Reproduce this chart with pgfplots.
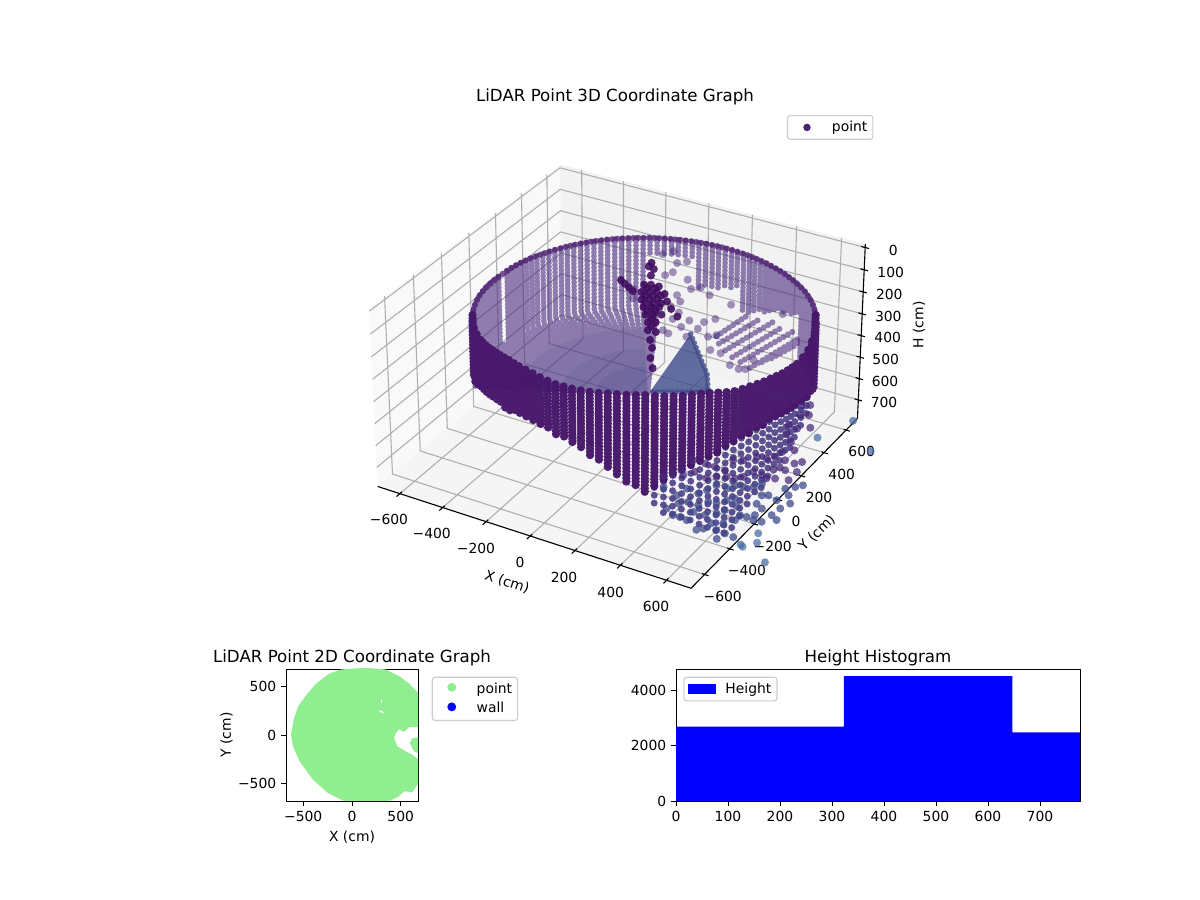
\documentclass[border=0pt]{standalone}
\usepackage{pgfplots}
\pgfplotsset{compat=1.18}
\usepackage{fontspec}
\setmainfont{DejaVu Sans}
\def\tf{\fontsize{10bp}{12bp}\selectfont}
\def\ttl{\fontsize{12bp}{14bp}\selectfont}
\definecolor{lg}{HTML}{CCCCCC}
\definecolor{gridc}{HTML}{B0B0B0}
\definecolor{lightgreen}{HTML}{90EE90}
\definecolor{cW}{HTML}{4A2A7E}
\definecolor{cF}{HTML}{46156A}
\definecolor{cP}{HTML}{3F0A5F}
\definecolor{cA}{HTML}{46277A}
\definecolor{cB}{HTML}{3E4A89}
\definecolor{cC}{HTML}{4A6FA5}
\definecolor{cL}{HTML}{482475}
% perspective projection of (X,Y,H) in cm to picture pixels (elev 30, azim -60)
\def\W{(9.8383-0.000365*\thisrow{X}+0.000633*\thisrow{Y}+0.000418*\thisrow{H})}
\def\PX{622+(2.193*\thisrow{X}+1.266*\thisrow{Y})/\W}
\def\PY{535+(848.7-0.639*\thisrow{X}+1.106*\thisrow{Y}-2.197*\thisrow{H})/\W}
\pgfplotsset{
 lgd/.style={legend style={draw=lg,rounded corners=2bp,font=\tf,fill=white,fill opacity=0.8,text opacity=1,line width=0.8bp,inner sep=2bp,row sep=1bp},legend cell align=left},
 dots/.style 2 args={only marks,mark=*,mark size=2.9bp,mark options={draw=#1,draw opacity=0,fill=#1,fill opacity=#2,line width=0pt}},
}
\begin{document}
\begin{tikzpicture}
\path[use as bounding box] (0,0) rectangle (864bp,648bp);
\begin{axis}[at={(0,0)},anchor=south west,scale only axis,width=864bp,height=648bp,
 xmin=0,xmax=1200,ymin=0,ymax=900,hide axis,clip=false,lgd,
 legend style={at={(0.6558,0.8722)},anchor=north west}]
\addlegendimage{legend image code/.code={\fill[draw=none,fill=cL,fill opacity=1] (12bp,0) circle (2.7bp);\path[draw=none] (0,0)--(28bp,0);}}
\addlegendentry{point}
% panes
\addplot[fill=black!2.5,draw=none,forget plot] table[x expr=\PX,y expr=\PY]{
X Y H
-705 -705 788
-705 -705 -15
-705 705 -15
-705 705 788
};
\addplot[fill=black!5,draw=none,forget plot] table[x expr=\PX,y expr=\PY]{
X Y H
-705 705 788
-705 705 -15
705 705 -15
705 705 788
};
\addplot[fill=black!4,draw=none,forget plot] table[x expr=\PX,y expr=\PY]{
X Y H
-705 -705 788
705 -705 788
705 705 788
-705 705 788
};
% grid
\addplot[gridc,line width=0.8bp,empty line=jump,forget plot] table[x expr=\PX,y expr=\PY]{
X Y H
-600 -705 788
-600 705 788
-600 705 -15

-400 -705 788
-400 705 788
-400 705 -15

-200 -705 788
-200 705 788
-200 705 -15

0 -705 788
0 705 788
0 705 -15

200 -705 788
200 705 788
200 705 -15

400 -705 788
400 705 788
400 705 -15

600 -705 788
600 705 788
600 705 -15

705 -600 788
-705 -600 788
-705 -600 -15

705 -400 788
-705 -400 788
-705 -400 -15

705 -200 788
-705 -200 788
-705 -200 -15

705 0 788
-705 0 788
-705 0 -15

705 200 788
-705 200 788
-705 200 -15

705 400 788
-705 400 788
-705 400 -15

705 600 788
-705 600 788
-705 600 -15

-705 -705 0
-705 705 0
705 705 0

-705 -705 100
-705 705 100
705 705 100

-705 -705 200
-705 705 200
705 705 200

-705 -705 300
-705 705 300
705 705 300

-705 -705 400
-705 705 400
705 705 400

-705 -705 500
-705 705 500
705 705 500

-705 -705 600
-705 705 600
705 705 600

-705 -705 700
-705 705 700
705 705 700
};
% axis lines and ticks
\addplot[black,line width=0.8bp,forget plot] table[x expr=\PX,y expr=\PY]{
X Y H
-705 -705 788
705 -705 788
705 705 788
705 705 -15
};
\addplot[black,line width=0.8bp,empty line=jump,forget plot] table[x expr=\PX,y expr=\PY]{
X Y H
-600 -729 788
-600 -690 788

-400 -729 788
-400 -690 788

-200 -729 788
-200 -690 788

0 -729 788
0 -690 788

200 -729 788
200 -690 788

400 -729 788
400 -690 788

600 -729 788
600 -690 788

722 -600 788
694 -600 788

722 -400 788
694 -400 788

722 -200 788
694 -200 788

722 0 788
694 0 788

722 200 788
694 200 788

722 400 788
694 400 788

722 600 788
694 600 788

722 705 0
688 705 0

722 705 100
688 705 100

722 705 200
688 705 200

722 705 300
688 705 300

722 705 400
688 705 400

722 705 500
688 705 500

722 705 600
688 705 600

722 705 700
688 705 700
};
% back of the wall: top, foot, and for the open floor the way to the centre
\addplot[color=cW,draw opacity=0.6,line width=4.1bp,line cap=round,dash pattern=on 0bp off 2.7bp,empty line=jump,forget plot] table[x expr=\PX,y expr=\PY]{
X Y H
641 403 162
641 403 500

625 428 163
625 428 500

607 452 164
607 452 500

589 474 165
589 474 500

570 497 166
570 497 500

549 517 167
549 517 500

529 538 168
529 538 500

506 557 169
506 557 500

484 575 170
484 575 305

460 593 171
460 593 316

435 609 172
435 609 328

410 624 172
410 624 334

385 638 173
385 638 345

359 651 173
359 651 356

332 663 174
332 663 367

304 674 174
304 674 389

277 683 174
277 683 400

249 691 174
249 691 412

220 698 174
220 698 423

192 704 174
192 704 435

163 708 174
163 708 435

133 711 174
133 711 342

105 713 174
105 713 350

75 714 174
75 714 359

45 713 174
45 713 366

17 711 174
17 711 374

-13 708 174
-13 708 380

-42 704 174
-42 704 387

-70 698 174
-70 698 246

-99 691 174
-99 691 246

-127 683 174
-127 683 246

-154 674 174
-154 674 246

-182 663 174
-182 663 246

-209 651 174
-209 651 246

-235 638 174
-235 638 246

-209 651 500
100 30 500

-235 638 500
100 30 500

-260 624 174
-260 624 500
100 30 500

-285 609 174
-285 609 500
100 30 500

-310 593 174
-310 593 500
100 30 500

-334 575 174
-334 575 500
100 30 500

-356 557 174
-356 557 500
100 30 500

-379 538 174
-379 538 500
100 30 500

-399 517 174
-399 517 500
100 30 500

-420 497 174
-420 497 500
100 30 500

-439 474 174
-439 474 500
100 30 500

-457 452 174
-457 452 500
100 30 500

-475 428 174
-475 428 500
100 30 500

-491 403 174
-491 403 500
100 30 500

-506 379 174
-506 379 500
100 30 500

-520 353 174
-520 353 500
100 30 500

-533 327 174
-533 327 500
100 30 500

-545 300 174
-545 300 500
100 30 500

-556 272 173
-556 272 500
100 30 500

-565 245 173
-565 245 500
100 30 500

-573 217 173
-573 217 500
100 30 500

-580 188 172
-580 188 500
100 30 500

-586 160 172
-586 160 500
100 30 500

-590 131 172
-590 131 500
100 30 500

-593 101 172
-593 101 500
100 30 500

-595 72 500
100 30 500

-596 43 172
-596 43 500
100 30 500

-595 13 170
-595 13 500
100 30 500

-593 -15 169
-593 -15 500
100 30 500

-590 -45 168
-590 -45 500
100 30 500

-586 -74 167
-586 -74 500
100 30 500

-580 -102 166
-580 -102 500
100 30 500

-573 -131 165
-573 -131 500
100 30 500

-565 -159 164
-565 -159 500
100 30 500

-556 -186 163
-556 -186 500
100 30 500

-545 -214 163
-545 -214 500
100 30 500

-533 -241 162
-533 -241 500
100 30 500

-520 -267 161
-520 -267 500
100 30 500
};
% blue tint of the floor, stronger towards the centre
\addplot[fill=cB,fill opacity=0.12,draw=none,forget plot] table[x expr=\PX,y expr=\PY]{
X Y H
-170 476 500
-242 425 500
-304 363 500
-354 292 500
-392 212 500
-418 106 500
-422 40 500
-414 -48 500
-392 -132 500
-365 -193 500
100 30 500
};
\addplot[fill=cB,fill opacity=0.14,draw=none,forget plot] table[x expr=\PX,y expr=\PY]{
X Y H
-80 327 500
-128 294 500
-170 252 500
-203 205 500
-228 151 500
-245 80 500
-248 36 500
-243 -22 500
-228 -78 500
-210 -118 500
100 30 500
};
\addplot[fill=cB,fill opacity=0.16,draw=none,forget plot] table[x expr=\PX,y expr=\PY]{
X Y H
-8 208 500
-37 188 500
-62 163 500
-82 135 500
-97 103 500
-107 60 500
-109 34 500
-106 -1 500
-97 -35 500
-86 -59 500
100 30 500
};
% central patch of the floor
\addplot[fill=cB,fill opacity=0.8,draw=cB,draw opacity=0.8,line width=4bp,line cap=round,dash pattern=on 0bp off 3.5bp,forget plot] table[x expr=\PX,y expr=\PY]{
X Y H
20 528 500
236 273 500
304 157 500
104 41 500
};
% the slanted object on the right
\addplot[color=cW,draw opacity=0.58,line width=4.4bp,line cap=round,dash pattern=on 0bp off 3.6bp,empty line=jump,forget plot] table[x expr=\PX,y expr=\PY]{
X Y H
120 566 500
150 791 500

158 516 500
209 789 500

206 480 500
266 786 500

257 446 500
320 772 500

304 428 500
374 758 500

359 406 500
421 723 500

379 472 500
434 685 500

398 518 500
433 657 500
};
% dark rim of the back wall
\addplot[color=cF,draw opacity=0.72,line width=4.4bp,line cap=round,dash pattern=on 0bp off 3.8bp,forget plot] table[x expr=\PX,y expr=\PY]{
X Y H
656 379 161
641 403 162
607 452 164
570 497 166
529 538 168
484 575 170
435 609 172
385 638 173
332 663 174
277 683 174
220 698 174
163 708 174
105 713 174
45 713 174
-13 708 174
-70 698 174
-127 683 174
-182 663 174
-235 638 174
-285 609 174
-334 575 174
-379 538 174
-420 497 174
-457 452 174
-491 403 174
-520 353 174
-545 300 174
-565 245 173
-580 188 172
-590 131 172
-596 43 172
-593 -15 169
-586 -74 167
-573 -131 165
-556 -186 163
-533 -241 162
-506 -293 161
};
% loose points
\addplot[dots={cW}{0.5},forget plot] table[x expr=\PX,y expr=\PY]{
X Y H
-209 792 300
-236 747 300
-146 709 300
-117 740 300
-123 631 300
-138 593 300
-39 605 300
11 543 300
39 574 300
101 535 300
-13 469 300
24 429 300
214 509 300
67 289 300
131 311 300
188 329 300
215 374 300
192 270 300
258 234 300
438 81 300
482 71 300
505 84 300
499 162 300
363 144 300
316 146 300
281 261 300
78 190 300
128 249 300
184 191 300
109 178 300
63 347 300
9 376 300
-154 357 300
-194 425 300
430 544 300
};
% the person
\addplot[dots={cP}{0.88},forget plot] table[x expr=\PX,y expr=\PY]{
X Y H
-274 466 300
-245 447 300
-215 428 300
-185 409 300
-239 658 300
-233 625 300
-204 615 300
-187 561 300
-172 479 300
-148 493 300
-113 496 300
-146 458 300
-119 474 300
-152 420 300
-124 435 300
-97 451 300
-62 453 300
-122 400 300
-95 416 300
-67 431 300
-120 365 300
-92 381 300
-65 397 300
-23 403 300
-91 346 300
-64 362 300
-36 377 300
-82 315 300
-54 331 300
-27 347 300
22 357 300
-52 295 300
-25 311 300
-44 265 300
-17 281 300
11 297 300
74 315 300
-7 250 300
-5 215 300
22 231 300
24 195 300
26 160 300
61 163 300
72 97 300
110 46 300
143 -26 300
189 -90 300
};
% the columns run out in wider steps towards the floor
\addplot[color=cB!40!cA,draw opacity=0.85,line width=5bp,line cap=round,dash pattern=on 0bp off 5.6bp,empty line=jump,forget plot] table[x expr=\PX,y expr=\PY]{
X Y H
441 -520 530
441 -520 624

470 -500 505
470 -500 652

497 -478 480
497 -478 677

524 -456 462
524 -456 699

549 -431 447
549 -431 722

574 -406 436
574 -406 745

596 -379 424
596 -379 766

618 -352 411
618 -352 788

638 -323 397
638 -323 788

656 -293 384
656 -293 773

673 -262 378
673 -262 736

688 -230 372
688 -230 700

702 -197 366
702 -197 669

713 -164 361
713 -164 644

723 -131 358
723 -131 618

731 -97 354
731 -97 598

738 -62 356
738 -62 579

743 -27 361
743 -27 560

745 8 367
745 8 546

746 43 373
746 43 529

743 101 386
743 101 524

736 160 400
736 160 502
};
% lower points, dark
\addplot[dots={cA}{0.72},forget plot] table[x expr=\PX,y expr=\PY]{
X Y H
634 413 700
591 380 700
585 498 700
554 570 700
526 546 700
554 480 700
550 387 700
572 326 700
617 276 700
620 193 700
614 146 700
657 229 700
659 144 700
702 141 700
723 166 700
739 90 700
693 79 700
666 86 700
651 60 700
738 21 700
631 1 700
590 6 700
552 110 700
590 119 700
687 5 700
657 -11 700
574 -46 700
551 -73 700
516 -77 700
483 -98 700
453 -126 700
392 -108 700
365 -153 700
329 -171 700
302 -201 700
517 62 700
482 42 700
489 -40 700
442 -36 700
398 -34 700
346 -37 700
341 -125 700
};
% lower points, blue
\addplot[dots={cB}{0.75},forget plot] table[x expr=\PX,y expr=\PY]{
X Y H
803 16 700
783 -10 700
755 -40 700
788 -76 700
820 -125 700
764 -130 700
720 -115 700
698 -128 700
803 -175 700
828 -254 700
796 -233 700
742 -211 700
709 -191 700
643 -91 700
660 -54 700
608 -110 700
575 -117 700
558 -153 700
512 -152 700
497 -202 700
480 -240 700
424 -231 700
413 -292 700
340 -266 700
619 -200 700
597 -226 700
574 -266 700
541 -272 700
519 -312 700
474 -311 700
447 -340 700
650 -244 700
624 -292 700
608 -328 700
574 -360 700
526 -363 700
531 -426 700
498 -420 700
469 -422 700
425 -394 700
691 -294 700
719 -292 700
740 -265 700
784 -293 700
751 -298 700
691 -334 700
663 -377 700
623 -398 700
614 -446 700
595 -466 700
662 -430 700
701 -434 700
740 -440 700
692 -482 700
};
% front of the wall
\addplot[color=cF,draw opacity=0.96,line width=6bp,line cap=round,dash pattern=on 0bp off 2.4bp,empty line=jump,forget plot] table[x expr=\PX,y expr=\PY]{
X Y H
-506 -293 161
-506 -293 409

-475 -342 157
-475 -342 405

-439 -388 153
-439 -388 400

-399 -431 148
-399 -431 378

-356 -471 142
-356 -471 356

-334 -489 138
-334 -489 352

-310 -507 134
-310 -507 349

-285 -523 130
-285 -523 345

-260 -538 125
-260 -538 342

-235 -552 122
-235 -552 340

-209 -565 119
-209 -565 338

-182 -577 116
-182 -577 336

-154 -588 114
-154 -588 334

-127 -597 115
-127 -597 333

-99 -605 116
-99 -605 333

-65 -613 117
-65 -613 333

-30 -620 119
-30 -620 334

5 -625 123
5 -625 339

40 -627 127
40 -627 344

75 -628 131
75 -628 350

110 -627 131
110 -627 361

145 -625 131
145 -625 373

180 -620 131
180 -620 385

215 -613 130
215 -613 410

249 -605 129
249 -605 434

282 -595 127
282 -595 458

315 -584 126
315 -584 482

348 -570 126
348 -570 506

380 -555 125
380 -555 530

410 -538 125
410 -538 555

441 -520 128
441 -520 530

470 -500 131
470 -500 505

497 -478 134
497 -478 480

524 -456 136
524 -456 462

549 -431 138
549 -431 447

574 -406 139
574 -406 436

596 -379 142
596 -379 424

618 -352 148
618 -352 411

638 -323 155
638 -323 397

656 -293 161
656 -293 384

673 -262 162
673 -262 378

688 -230 163
688 -230 372

702 -197 165
702 -197 366

713 -164 168
713 -164 361

723 -131 170
723 -131 358

731 -97 173
731 -97 354

738 -62 177
738 -62 356

743 -27 180
743 -27 361

745 8 184
745 8 367

746 43 187
746 43 373

743 101 187
743 101 386

736 160 186
736 160 400

723 217 179
723 217 415

706 272 172
706 272 431

683 327 166
683 327 454

656 379 161
656 379 477
};
% outermost points
\addplot[dots={cC}{0.75},forget plot] table[x expr=\PX,y expr=\PY]{
X Y H
759 547 700
693 360 700
801 -480 700
788 -471 700
810 -370 700
836 -429 700
923 -531 700
921 375 700
};
\node[font=\ttl] at (axis cs:615,803.5) {LiDAR Point 3D Coordinate Graph};
\node[font=\tf] at (axis cs:389,380.7) {−600};
\node[font=\tf] at (axis cs:431.7,366.7) {−400};
\node[font=\tf] at (axis cs:476,351.7) {−200};
\node[font=\tf] at (axis cs:520,337.7) {0};
\node[font=\tf] at (axis cs:564,322.7) {200};
\node[font=\tf] at (axis cs:610.7,307.3) {400};
\node[font=\tf] at (axis cs:656,293.3) {600};
\node[font=\tf] at (axis cs:722.7,303.3) {−600};
\node[font=\tf] at (axis cs:747,329.3) {−400};
\node[font=\tf] at (axis cs:772.7,354) {−200};
\node[font=\tf] at (axis cs:796,378.7) {0};
\node[font=\tf] at (axis cs:819,402.7) {200};
\node[font=\tf] at (axis cs:841.7,425.7) {400};
\node[font=\tf] at (axis cs:861.7,449) {600};
\node[font=\tf] at (axis cs:893.3,650) {0};
\node[font=\tf] at (axis cs:890.7,627.7) {100};
\node[font=\tf] at (axis cs:889.3,605.7) {200};
\node[font=\tf] at (axis cs:888.3,584) {300};
\node[font=\tf] at (axis cs:887.7,562.3) {400};
\node[font=\tf] at (axis cs:885.7,540.7) {500};
\node[font=\tf] at (axis cs:885,519) {600};
\node[font=\tf] at (axis cs:884,498) {700};
\node[font=\tf,rotate=-18] at (axis cs:507,318) {X (cm)};
\node[font=\tf,rotate=45] at (axis cs:817,367) {Y (cm)};
\node[font=\tf,rotate=90] at (axis cs:919,575) {H (cm)};
\end{axis}
% 2D graph
\begin{axis}[at={(205.92bp,71.28bp)},anchor=south west,scale only axis,width=95.04bp,height=95.04bp,
 xmin=-677,xmax=677,ymin=-677,ymax=677,axis line style={line width=0.6bp},
 tick style={line width=0.6bp,black},tick align=outside,tickwidth=3.5bp,xtick pos=left,ytick pos=left,
 xtick={-500,0,500},xticklabels={−500,0,500},ytick={-500,0,500},yticklabels={−500,0,500},
 ticklabel style={font=\tf},
 xlabel={X (cm)},ylabel={Y (cm)},label style={font=\tf},
 xlabel style={yshift=0bp},ylabel style={yshift=-3bp},
 title={LiDAR Point 2D Coordinate Graph},title style={font=\ttl,yshift=-7bp},
 lgd,legend style={at={(1.104,0.942)},anchor=north west}]
\addlegendimage{legend image code/.code={\fill[draw=none,fill=lightgreen,fill opacity=1] (12bp,0) circle (3.2bp);\path[draw=none] (0,0)--(28bp,0);}}
\addlegendentry{point}
\addlegendimage{legend image code/.code={\fill[draw=none,fill=blue,fill opacity=1] (12bp,0) circle (3.2bp);\path[draw=none] (0,0)--(28bp,0);}}
\addlegendentry{wall}
\addplot[fill=lightgreen,draw=none,forget plot] coordinates {
(-626,2)(-599,155)(-554,291)(-469,410)(-367,529)(-231,631)(-112,672)(143,690)(347,672)(483,604)(585,529)(673,437)(700,437)(700,80)(673,80)(585,80)(534,32)(483,60)(449,19)(432,-32)(466,-117)(551,-168)(619,-202)(673,-243)(700,-243)(700,-508)(673,-508)(619,-587)(534,-577)(483,-628)(398,-672)(143,-695)(-95,-672)(-248,-594)(-401,-458)(-537,-270)(-605,-117)} --cycle;
\addplot[fill=lightgreen,draw=none,forget plot] coordinates {
(700,-25)(673,-25)(619,-32)(592,-83)(636,-168)(673,-185)(700,-185)} --cycle;
\addplot[fill=white,draw=none,forget plot] coordinates {(269,250)(306,250)(330,222)(296,232)} --cycle;
\addplot[fill=white,draw=none,forget plot] coordinates {(293,359)(299,359)(299,331)(293,331)} --cycle;
\end{axis}
% histogram
\begin{axis}[at={(486.72bp,71.28bp)},anchor=south west,scale only axis,width=290.88bp,height=95.04bp,
 xmin=0,xmax=777,ymin=0,ymax=4757,axis line style={line width=0.6bp},
 tick style={line width=0.6bp,black},tick align=outside,tickwidth=3.5bp,xtick pos=left,ytick pos=left,
 xtick={0,100,...,700},ytick={0,2000,4000},scaled ticks=false,
 ticklabel style={font=\tf,/pgf/number format/assume math mode=true},
 yticklabel style={/pgf/number format/1000 sep={}},
 title={Height Histogram},title style={font=\ttl,yshift=-7bp},
 lgd,legend style={at={(0.018,0.942)},anchor=north west}]
\addlegendimage{legend image code/.code={\fill[draw=none,fill=blue,fill opacity=1,rounded corners=0pt] (1bp,-3.6bp) rectangle (21bp,3.6bp);\path[draw=none] (0,0)--(26bp,0);}}
\addlegendentry{Height}
\addplot[ybar interval,fill=blue,draw=none,forget plot] coordinates {(0,2680)(323,4500)(647,2470)(971,2470)};
\end{axis}
\end{tikzpicture}
\end{document}
